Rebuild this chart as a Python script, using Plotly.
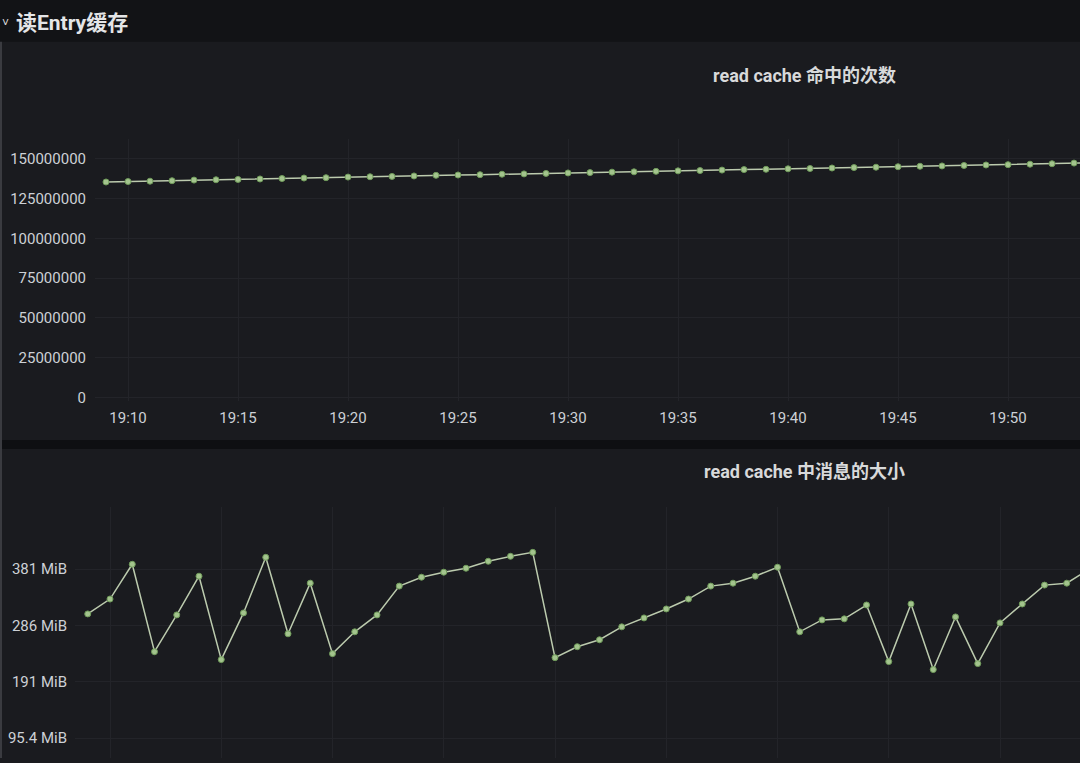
import pandas as pd
import plotly.graph_objects as go

W, H = 1080, 763

# one sample per minute, 19:09 .. 19:54
times = pd.date_range("2023-06-01 19:09", periods=46, freq="min")

# read cache 命中的次数
hit_count = [
    135500000, 135800000, 136000000, 136300000, 136700000, 136900000, 137100000, 137400000,
    137700000, 138000000, 138200000, 138600000, 138800000, 139000000, 139300000, 139700000,
    139900000, 140100000, 140400000, 140600000, 140900000, 141200000, 141400000, 141700000,
    141900000, 142200000, 142500000, 142700000, 143000000, 143300000, 143500000, 143800000,
    144000000, 144300000, 144600000, 144800000, 145100000, 145400000, 145600000, 145900000,
    146200000, 146400000, 146700000, 147000000, 147400000, 147700000,
]

# read cache 中消息的大小 (MiB)
size_mib = [
    305.8, 331.0, 389.9, 241.8, 304.1, 369.7, 228.4, 307.5, 401.7, 272.1,
    357.9, 238.5, 275.5, 304.1, 352.9, 368.0, 376.5, 383.2, 395.0, 403.4,
    410.1, 231.7, 250.2, 262.0, 283.9, 299.0, 314.2, 331.0, 352.9, 357.9,
    369.7, 384.9, 275.5, 295.7, 297.4, 320.9, 225.0, 322.6, 211.5, 300.7,
    221.6, 290.6, 322.6, 354.6, 357.9, 381.5,
]

hit_ticks = [0, 25000000, 50000000, 75000000, 100000000, 125000000, 150000000]
size_ticks = [95.367, 190.735, 286.102, 381.470]
size_tick_text = ["95.4 MiB", "191 MiB", "286 MiB", "381 MiB"]

BG = "#1a1b1f"
GRID = "#232429"
TXT = "#cdd1d6"
FONT = "Roboto, Noto Sans CJK SC, sans-serif"
LINE = "#bccbae"
MARK = "#a3c48d"


def px(p):
    return p / W


def py(p):
    return 1 - p / H


t10 = pd.Timestamp("2023-06-01 19:10")


def xrange(left_px, tick_px, per_min):
    lo = t10 - pd.Timedelta(minutes=(tick_px - left_px) / per_min)
    hi = t10 + pd.Timedelta(minutes=(W - tick_px) / per_min)
    return [lo.isoformat(), hi.isoformat()]


fig = go.Figure()

fig.add_trace(go.Scatter(
    x=times, y=hit_count, mode="lines+markers",
    line=dict(color=LINE, width=1.5),
    marker=dict(size=6, color=MARK, line=dict(color="#6f9a5a", width=1)),
    xaxis="x", yaxis="y", showlegend=False,
))
fig.add_trace(go.Scatter(
    x=times, y=size_mib, mode="lines+markers",
    line=dict(color=LINE, width=1.5),
    marker=dict(size=6, color=MARK, line=dict(color="#6f9a5a", width=1)),
    xaxis="x2", yaxis="y2", showlegend=False,
))

axis_font = dict(color=TXT, size=15, family=FONT)

fig.update_layout(
    width=W, height=H,
    margin=dict(l=0, r=0, t=0, b=0),
    paper_bgcolor=BG, plot_bgcolor=BG,
    font=dict(family=FONT, color=TXT),
    xaxis=dict(
        domain=[px(95), 1], range=xrange(95, 128, 22),
        type="date", tick0="2023-06-01 19:10", dtick=300000, tickformat="%H:%M",
        showgrid=True, gridcolor=GRID, zeroline=False, showline=False,
        tickfont=axis_font, ticklabelstandoff=6,
    ),
    yaxis=dict(
        domain=[py(404), py(140)], range=[-2500000, 162500000],
        tickvals=hit_ticks, tickformat="d",
        showgrid=True, gridcolor=GRID, zeroline=False, showline=False,
        tickfont=axis_font, ticklabelstandoff=8,
    ),
    xaxis2=dict(
        domain=[px(75), 1], range=xrange(75, 110, 22.25), anchor="y2",
        type="date", tick0="2023-06-01 19:10", dtick=300000,
        showticklabels=False,
        showgrid=True, gridcolor=GRID, zeroline=False, showline=False,
    ),
    yaxis2=dict(
        domain=[0, py(510)], range=[61.7, 487.5], anchor="x2",
        tickvals=size_ticks, ticktext=size_tick_text,
        showgrid=True, gridcolor=GRID, zeroline=False, showline=False,
        tickfont=dict(color=TXT, size=15, family=FONT), ticklabelstandoff=7,
    ),
    shapes=[
        dict(type="rect", xref="paper", yref="paper", x0=0, x1=1, y0=py(42), y1=1,
             fillcolor="#121316", line=dict(width=0), layer="below"),
        dict(type="rect", xref="paper", yref="paper", x0=0, x1=1, y0=py(452), y1=py(443),
             fillcolor="#0e0f12", line=dict(width=0), layer="below"),
        dict(type="rect", xref="paper", yref="paper", x0=0, x1=px(2), y0=0, y1=py(42),
             fillcolor="#3a3b40", line=dict(width=0), layer="below"),
    ],
    annotations=[
        dict(text="˅", x=px(0), y=py(23), xref="paper", yref="paper",
             xanchor="left", yanchor="middle", showarrow=False,
             font=dict(size=12, color="#d8d9da", family=FONT)),
        dict(text="<b>读Entry缓存</b>", x=px(14), y=py(23), xref="paper", yref="paper",
             xanchor="left", yanchor="middle", showarrow=False,
             font=dict(size=21, color="#e4e5e7", family=FONT)),
        dict(text="<b>read cache 命中的次数</b>", x=px(804), y=py(76), xref="paper", yref="paper",
             xanchor="center", yanchor="middle", showarrow=False,
             font=dict(size=18, color="#d8d9da", family=FONT)),
        dict(text="<b>read cache 中消息的大小</b>", x=px(804), y=py(475), xref="paper", yref="paper",
             xanchor="center", yanchor="middle", showarrow=False,
             font=dict(size=18, color="#d8d9da", family=FONT)),
    ],
)

fig.write_html(
    "out.html",
    config={"displayModeBar": False},
    post_script=(
        "document.documentElement.style.margin='0';"
        "document.documentElement.style.overflow='hidden';"
        "document.body.style.margin='0';"
        "document.body.style.overflow='hidden';"
        "document.body.style.height='763px';"
    ),
)
